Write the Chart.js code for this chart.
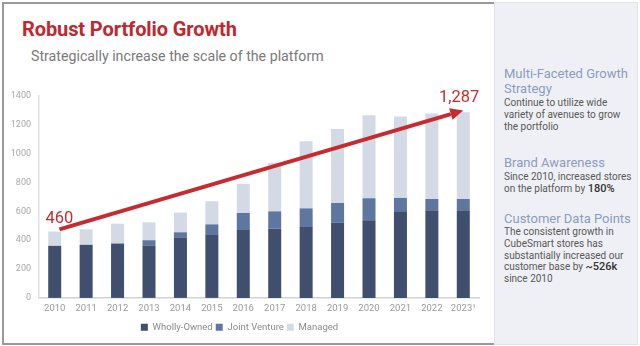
<!DOCTYPE html>
<html>
<head>
<meta charset="utf-8">
<script src="https://cdn.jsdelivr.net/npm/chart.js@4"></script>
<style>
  html, body { margin:0; padding:0; background:#fff; width:640px; height:346px; overflow:hidden; font-family: Roboto, "DejaVu Sans", sans-serif; }
  #frame { position:absolute; left:2px; top:2px; width:491px; height:339px; border:2px solid #9a9a9a; border-right:none; box-sizing:content-box; }
  #title { position:absolute; left:22px; top:19px; font-size:20px; line-height:20px; font-weight:700; color:#c1272d; white-space:nowrap; letter-spacing:-0.1px; }
  #subtitle { position:absolute; left:31px; top:49px; font-size:14.2px; line-height:15px; color:#7a7a7a; white-space:nowrap; }
  #panel { position:absolute; left:494px; top:2px; width:142px; height:341px; background:#eff0f5; border:1px solid #e2e3e9; }
  .h { position:absolute; left:504px; font-size:13px; line-height:14.7px; color:#8c9cbf; white-space:nowrap; }
  .b { position:absolute; left:504px; font-size:10px; line-height:11.8px; color:#585858; white-space:nowrap; }
  .b strong { font-weight:500; color:#333; font-size:11px; }
  #wrap { position:absolute; left:0; top:80px; width:496px; height:262px; }
</style>
</head>
<body>
<div id="frame"></div>
<div id="panel"></div>
<div id="title">Robust Portfolio Growth</div>
<div id="subtitle">Strategically increase the scale of the platform</div>

<div class="h" style="top:67px">Multi-Faceted Growth<br>Strategy</div>
<div class="b" style="top:97px">Continue to utilize wide<br>variety of avenues to grow<br>the portfolio</div>
<div class="h" style="top:156px">Brand Awareness</div>
<div class="b" style="top:171px">Since 2010, increased stores<br>on the platform by <strong>180%</strong></div>
<div class="h" style="top:212px">Customer Data Points</div>
<div class="b" style="top:226px">The consistent growth in<br>CubeSmart stores has<br>substantially increased our<br>customer base by <strong>~526k</strong><br>since 2010</div>

<div id="wrap"><canvas id="c"></canvas></div>

<script>
const categories = ['2010','2011','2012','2013','2014','2015','2016','2017','2018','2019','2020','2021','2022','2023¹'];
const whollyOwned = [361, 368, 377, 364, 416, 441, 470, 482, 491, 520, 538, 601, 608, 608];
const jointVenture = [0, 0, 0, 36, 39, 69, 119, 118, 130, 138, 153, 92, 78, 78];
const managed = [99, 108, 138, 124, 137, 160, 202, 337, 465, 514, 575, 565, 593, 601];
const yTicks = [0, 200, 400, 600, 800, 1000, 1200, 1400];
const growthStart = 460;
const growthEnd = 1287;

const arrowPlugin = {
  id: 'growthArrow',
  afterDatasetsDraw(chart) {
    const ctx = chart.ctx;
    const x = chart.scales.x, y = chart.scales.y;
    const step = x.getPixelForValue(1) - x.getPixelForValue(0);
    const x0 = x.getPixelForValue(0) + step * 0.15;
    const y0 = y.getPixelForValue(growthStart + 15);
    const x1 = x.getPixelForValue(categories.length - 1);
    const y1 = y.getPixelForValue(growthEnd + 13);
    const ang = Math.atan2(y1 - y0, x1 - x0);
    const headLen = 13, headW = 6;
    const bx = x1 - headLen * Math.cos(ang), by = y1 - headLen * Math.sin(ang);
    ctx.save();
    ctx.strokeStyle = '#c62b30';
    ctx.fillStyle = '#c62b30';
    ctx.lineWidth = 4;
    ctx.beginPath();
    ctx.moveTo(x0, y0);
    ctx.lineTo(bx, by);
    ctx.stroke();
    ctx.beginPath();
    ctx.moveTo(x1, y1);
    ctx.lineTo(bx + headW * Math.sin(ang), by - headW * Math.cos(ang));
    ctx.lineTo(bx - headW * Math.sin(ang), by + headW * Math.cos(ang));
    ctx.closePath();
    ctx.fill();
    ctx.font = '16.5px Roboto';
    ctx.textBaseline = 'alphabetic';
    ctx.textAlign = 'left';
    ctx.fillText(growthStart.toLocaleString('en-US'), x0 - 14, y0 - 6);
    ctx.textAlign = 'right';
    ctx.fillText(growthEnd.toLocaleString('en-US'), x1 + 16, y1 - 8);
    ctx.restore();
  }
};

new Chart(document.getElementById('c'), {
  type: 'bar',
  data: {
    labels: categories,
    datasets: [
      { label: 'Wholly-Owned', data: whollyOwned, backgroundColor: '#3f4f6d' },
      { label: 'Joint Venture', data: jointVenture, backgroundColor: '#5f77a0' },
      { label: 'Managed', data: managed, backgroundColor: '#d4dae5' }
    ]
  },
  options: {
    responsive: true,
    maintainAspectRatio: false,
    animation: false,
    layout: { padding: { left: 0, right: 17, top: 16, bottom: 0 } },
    datasets: { bar: { categoryPercentage: 0.9, barPercentage: 0.46, borderWidth: 0 } },
    plugins: {
      tooltip: { enabled: false },
      legend: {
        position: 'bottom',
        labels: { boxWidth: 7, boxHeight: 7, padding: 3, color: '#8a8a8a', font: { family: 'Roboto', size: 9.5 } }
      }
    },
    scales: {
      x: {
        stacked: true,
        grid: { display: false, drawTicks: false },
        border: { display: true, color: '#d2d2d2', width: 1.5 },
        ticks: { color: '#9a9a9a', font: { family: 'Roboto', size: 9.5, lineHeight: 0.8 }, padding: 7, maxRotation: 0 }
      },
      y: {
        stacked: true,
        min: 0, max: 1400,
        afterBuildTicks(scale) { scale.ticks = yTicks.map(v => ({ value: v })); },
        afterFit(scale) { scale.width = 39; },
        grid: { display: false, drawTicks: false },
        border: { display: true, color: '#e2e2e2', width: 1.5 },
        ticks: { color: '#a8a8a8', font: { family: 'Roboto', size: 9 }, padding: 8, callback: v => String(v) }
      }
    }
  },
  plugins: [arrowPlugin]
});
</script>
</body>
</html>
